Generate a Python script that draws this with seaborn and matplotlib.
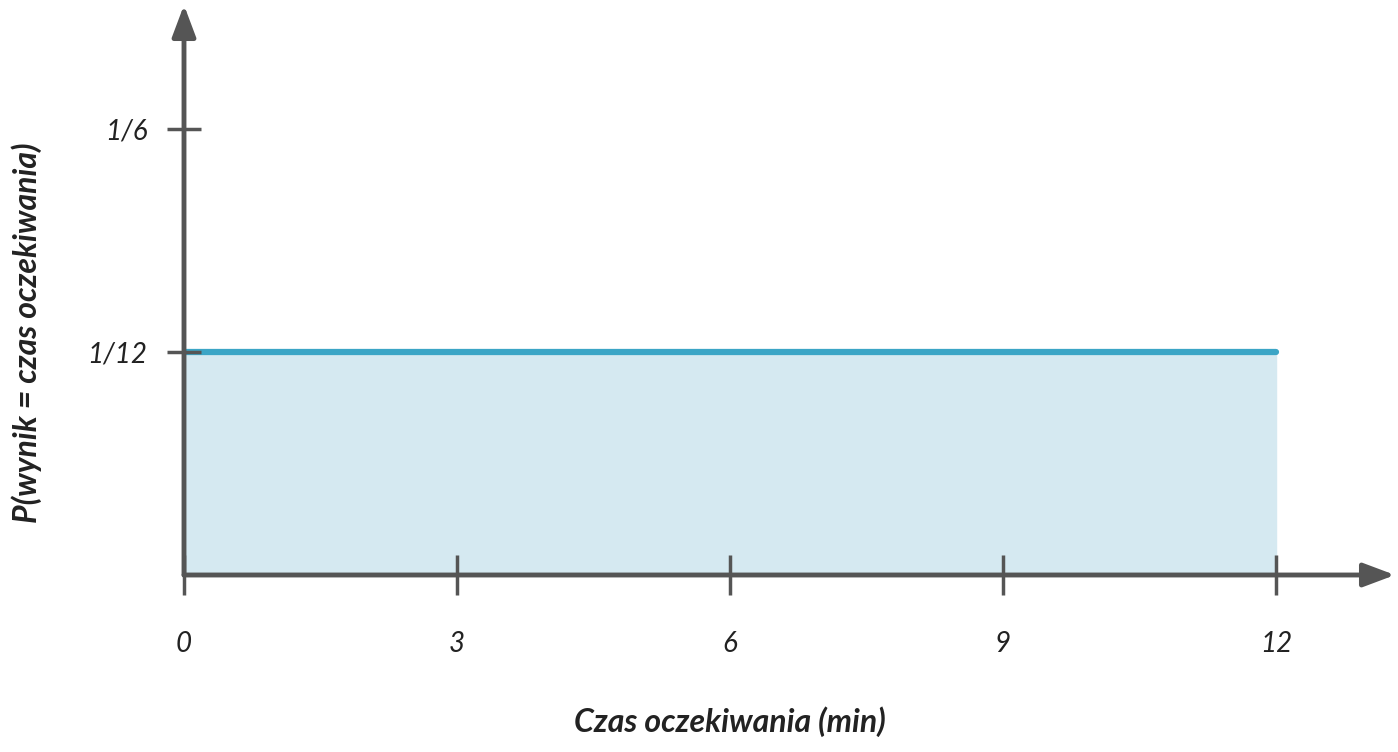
import matplotlib
matplotlib.use("Agg")
import matplotlib.pyplot as plt
import seaborn as sns
import numpy as np
import pandas as pd

x_vals = [0, 12]
density = [1/12, 1/12]
xticks = [0, 3, 6, 9, 12]
xtick_labels = ["0", "3", "6", "9", "12"]
yticks = [1/12, 1/6]
ytick_labels = ["1/12", "1/6"]

sns.set_theme(style="white")
plt.rcParams['font.family'] = ['Lato', 'DejaVu Sans']

W, H = 1398, 752
fig = plt.figure(figsize=(W/100, H/100), dpi=100)
ox, oy = 184, 575
xmax = (1395 - ox) / 91.0
ymax = (oy - 5) / 2676.0
ax = fig.add_axes([ox/W, (H-oy)/H, (1395-ox)/W, (oy-5)/H])
ax.set_xlim(0, xmax)
ax.set_ylim(0, ymax)
ax.set_axisbelow(False)

df = pd.DataFrame({"x": x_vals, "y": density})
ax.fill_between(df["x"], 0, df["y"], color="#d5e9f1", zorder=0.5)
sns.lineplot(data=df, x="x", y="y", ax=ax, color="#3ba5c6", lw=4.5, zorder=1)

for s in ax.spines.values():
    s.set_visible(False)
axc = "#555555"
for xy in [(xmax, 0), (0, ymax)]:
    ax.annotate("", xy=xy, xytext=(0, 0), xycoords="data",
                arrowprops=dict(arrowstyle="-|>,head_length=1.6,head_width=0.6", color=axc,
                                lw=3.5, shrinkA=0, shrinkB=0),
                annotation_clip=False, zorder=5)

ax.set_xticks(xticks)
ax.set_xticklabels(xtick_labels)
ax.set_yticks(yticks)
ax.set_yticklabels(ytick_labels)
ax.tick_params(axis="x", direction="inout", length=29, width=2.5, color=axc, pad=26,
               labelsize=20, labelcolor="#222222", bottom=True)
ax.tick_params(axis="y", direction="inout", length=25, width=2.5, color=axc, pad=14,
               labelsize=20, labelcolor="#222222", left=True)
for t in ax.get_xticklabels() + ax.get_yticklabels():
    t.set_style("italic")
ax.set_xlabel("")
ax.set_ylabel("")
fig.text(730/W, 1 - 722/H, "Czas oczekiwania (min)", ha="center", va="center",
         fontsize=23, fontweight="bold", style="italic", color="#222222")
fig.text(27/W, 1 - 333/H, "P(wynik = czas oczekiwania)", ha="center", va="center",
         rotation=90, fontsize=23, fontweight="bold", style="italic", color="#222222")

fig.savefig("out.png", dpi=100)
